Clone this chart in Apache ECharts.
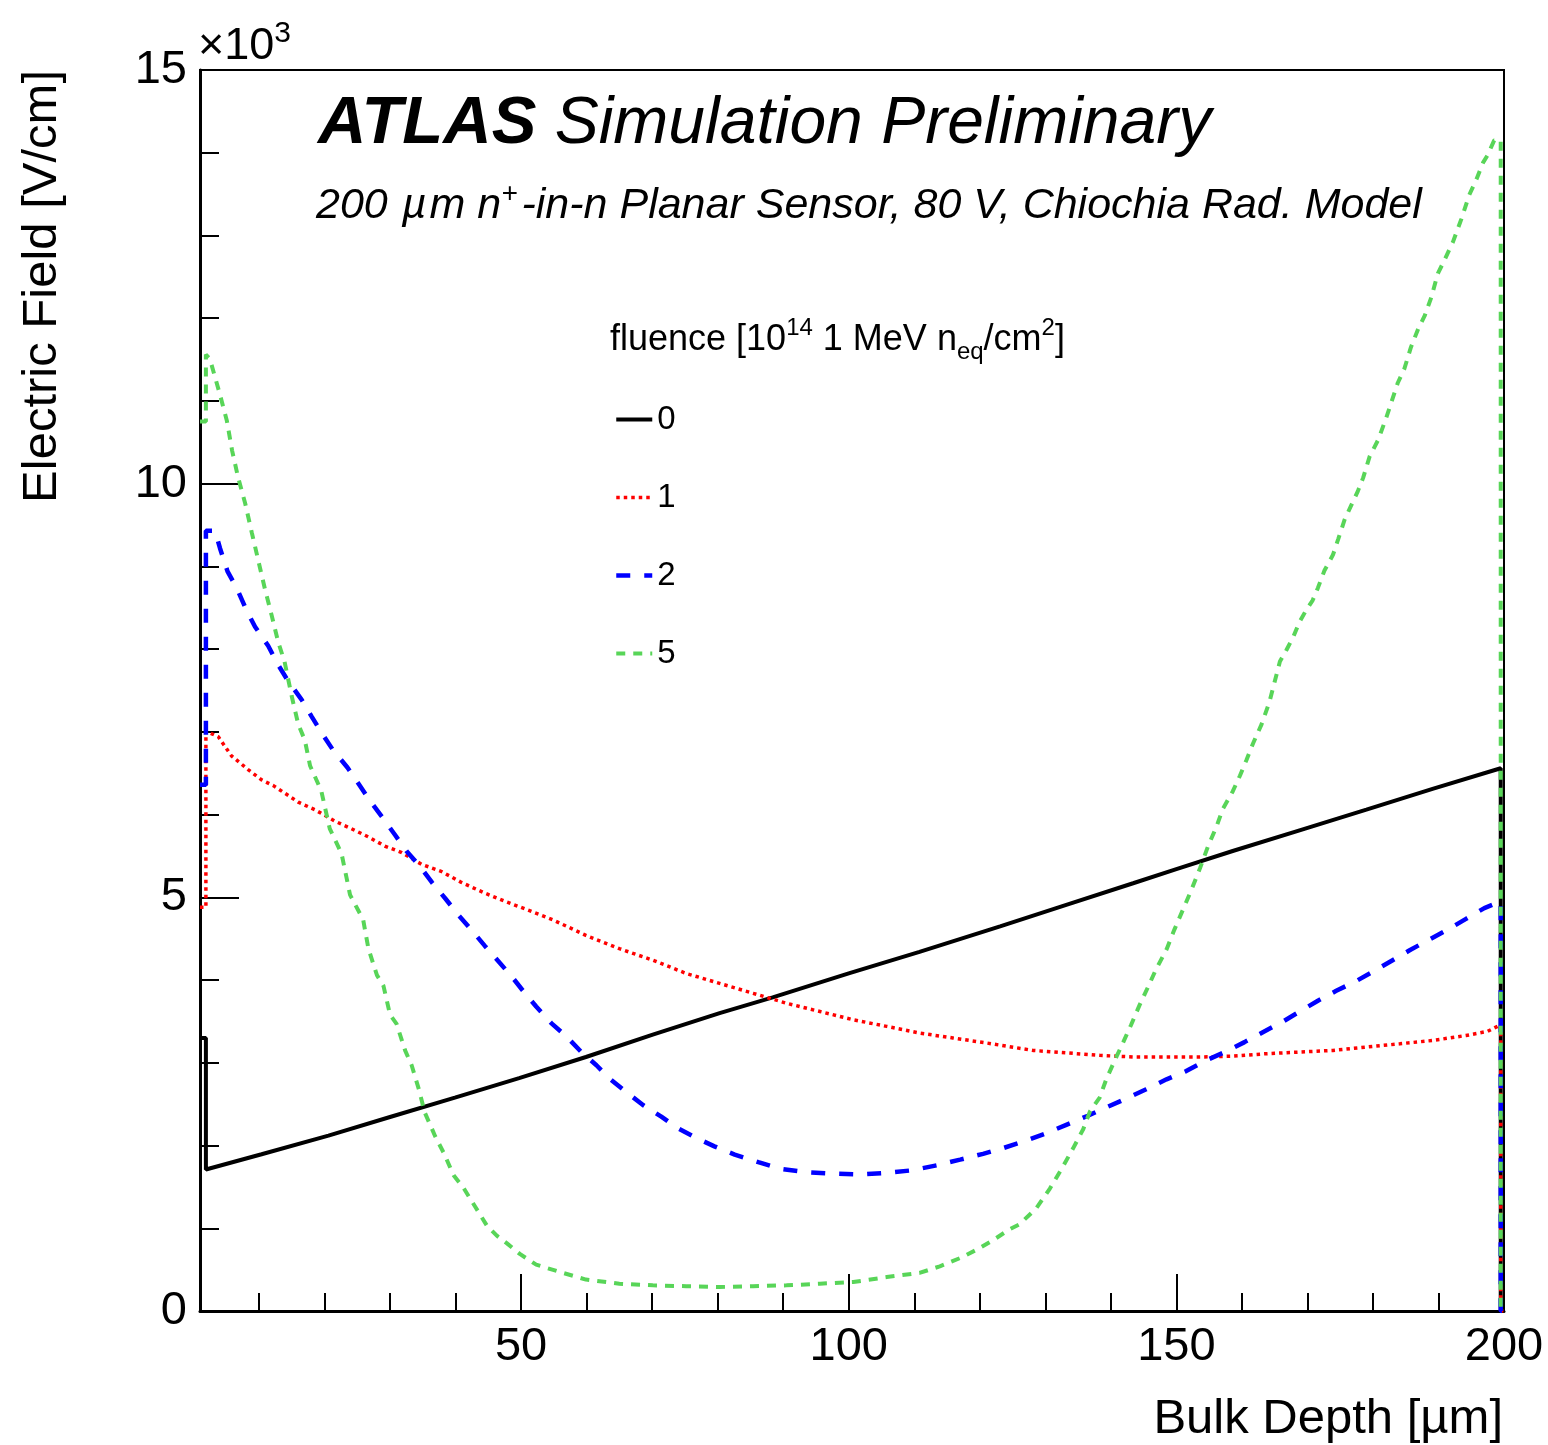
<!DOCTYPE html>
<html><head><meta charset="utf-8">
<script src="https://cdn.jsdelivr.net/npm/echarts@6/dist/echarts.min.js"></script>
<style>html,body{margin:0;padding:0;background:#fff}#c{width:1548px;height:1445px}</style>
</head><body><div id="c"></div>
<script>
const FONT = "'Liberation Sans', Arial, Helvetica, sans-serif";

// ---- data (Bulk depth in µm, electric field in V/cm) ----
const seriesNames = ['0', '1', '2', '5'];

const depth0 = [1, 1.9, 1.9, 10.4, 20.6, 30, 39.9, 49.7, 59.9, 70.1, 80.3, 88.4, 100, 110.8, 123.1, 133.2, 143.4, 150, 158.6, 168.8, 179, 189.1, 199.5, 199.5, 200];
const field0 = [3300, 3300, 1710, 1895, 2120, 2345, 2580, 2815, 3070, 3340, 3600, 3790, 4080, 4340, 4650, 4910, 5170, 5340, 5560, 5810, 6060, 6310, 6560, 0, 0];

const depth1 = [1, 1.9, 1.9, 3.8, 5.8, 8.4, 10.4, 12.2, 14.5, 16, 18.5, 21.6, 24.1, 26.7, 29.2, 31.8, 34.8, 37.9, 40.9, 44.5, 47.6, 50.6, 54.8, 59.9, 65, 70.1, 75.2, 80.3, 85.4, 90.5, 95.6, 100.7, 105.8, 110.8, 115.9, 121, 128.1, 133.2, 138.3, 143.4, 148.5, 153.6, 158.6, 163.7, 168.8, 173.9, 179, 184.1, 189.1, 194.2, 197.5, 199.5, 199.5, 200];
const field1 = [4880, 4880, 7010, 6940, 6710, 6540, 6420, 6350, 6230, 6150, 6060, 5920, 5830, 5730, 5620, 5540, 5400, 5310, 5180, 5050, 4950, 4860, 4730, 4540, 4380, 4240, 4080, 3960, 3840, 3720, 3620, 3520, 3440, 3360, 3300, 3240, 3150, 3120, 3090, 3070, 3070, 3070, 3080, 3110, 3130, 3150, 3190, 3230, 3270, 3330, 3380, 3460, 0, 0];

const depth2 = [1, 1.9, 1.9, 3.3, 4.05, 5.2, 6.6, 8.1, 9.4, 11.4, 13, 14.4, 16.5, 18, 19.8, 21.3, 23.5, 25.3, 27.1, 29, 30.8, 32.5, 34.6, 36.4, 38.5, 40.4, 42.5, 44.5, 46.5, 48.6, 50.4, 52.3, 54.6, 56.9, 59.2, 61.5, 63.5, 66, 68.6, 71.4, 73.7, 76.5, 79.5, 82.6, 86.2, 89.5, 93.3, 97.6, 101.7, 105.8, 109.6, 113.4, 117, 120.5, 123.6, 127.1, 130.2, 133.2, 136.5, 139.3, 142.4, 145.4, 148.5, 151.5, 154.3, 157.4, 160.4, 163.2, 166.3, 168.8, 171.6, 174.4, 177.5, 180.2, 183, 185.6, 188.6, 191.4, 194.2, 197, 199.5, 199.5, 200];
const field2 = [6360, 6360, 9430, 9430, 9220, 8940, 8740, 8470, 8270, 8040, 7800, 7620, 7390, 7190, 6960, 6780, 6570, 6360, 6150, 5950, 5750, 5560, 5370, 5180, 4980, 4790, 4600, 4410, 4230, 4040, 3860, 3680, 3480, 3320, 3130, 2970, 2810, 2650, 2490, 2350, 2220, 2100, 1990, 1890, 1800, 1720, 1680, 1660, 1650, 1670, 1700, 1760, 1830, 1900, 1970, 2060, 2150, 2250, 2360, 2460, 2570, 2680, 2800, 2900, 3020, 3130, 3250, 3370, 3500, 3620, 3750, 3870, 3990, 4110, 4240, 4360, 4490, 4610, 4740, 4870, 4950, 0, 0];

const depth5 = [1, 1.9, 1.9, 2.5, 4, 5.1, 5.9, 6.8, 7.9, 8.9, 9.9, 10.9, 11.9, 12.95, 13.9, 15, 16, 17, 17.8, 19.5, 20.8, 22.6, 23.9, 25.9, 26.7, 28, 29, 30, 31, 32.3, 33.3, 34.4, 35.3, 36.9, 38.2, 39.7, 41.2, 43, 44.8, 46.3, 47.8, 49.8, 52.3, 56.4, 59.9, 65, 70.1, 75.2, 80.3, 85.4, 90.5, 95.6, 100.7, 105.8, 110.8, 113.9, 117, 119.5, 122.1, 124.6, 126.1, 128.6, 130.7, 132.5, 134.2, 135.8, 136.8, 138.3, 139.3, 140.6, 141.9, 143.1, 144.4, 145.7, 146.9, 148.5, 149.7, 151, 152.3, 153.6, 154.8, 156.1, 157.1, 158.6, 159.7, 160.7, 161.7, 163, 164.2, 165.8, 166.8, 167.8, 168.8, 169.8, 170.8, 171.6, 172.6, 173.9, 174.7, 175.7, 176.7, 177.7, 178.5, 179.5, 180.8, 182, 182.8, 183.8, 184.8, 185.8, 186.9, 187.9, 188.9, 189.9, 190.9, 192.2, 193.5, 194.7, 195.8, 196.8, 197.5, 198.5, 199.5, 199.5, 200];
const field5 = [10750, 10750, 11560, 11510, 11090, 10760, 10400, 10080, 9760, 9410, 9070, 8730, 8420, 8080, 7850, 7430, 7090, 6900, 6590, 6290, 5830, 5530, 5030, 4730, 4380, 4060, 3930, 3580, 3470, 3150, 2970, 2680, 2400, 2110, 1910, 1640, 1490, 1260, 1030, 910, 820, 690, 560, 460, 380, 330, 310, 300, 290, 300, 310, 330, 350, 410, 460, 540, 640, 740, 860, 990, 1050, 1240, 1480, 1720, 1960, 2200, 2410, 2580, 2800, 3030, 3250, 3460, 3700, 3920, 4130, 4370, 4610, 4850, 5090, 5350, 5610, 5850, 6070, 6280, 6470, 6660, 6860, 7090, 7360, 7850, 7990, 8140, 8330, 8470, 8590, 8740, 8950, 9140, 9330, 9570, 9740, 9910, 10070, 10330, 10530, 10790, 10980, 11220, 11390, 11650, 11870, 12030, 12250, 12540, 12700, 12920, 13200, 13490, 13680, 13880, 13970, 14150, 14150, 0, 0];

const xMajorTicks = [50, 100, 150, 200];
const xMinorTicks = [10, 20, 30, 40, 60, 70, 80, 90, 110, 120, 130, 140, 160, 170, 180, 190];

// ---- styles ----
const lineStyles = [
  { color: '#000000', width: 4, type: 'solid' },
  { color: '#ff0000', width: 3.5, type: [3.5, 4] },
  { color: '#0000ff', width: 4.5, type: [14, 14] },
  { color: '#58d558', width: 4, type: [9, 8] }
];
const depths = [depth0, depth1, depth2, depth5];
const fields = [field0, field1, field2, field5];

function zip(a, b) { return a.map((v, i) => [v, b[i]]); }

const chart = echarts.init(document.getElementById('c'), null, { renderer: 'canvas' });

const series = seriesNames.map((n, i) => ({
  name: n,
  type: 'line',
  xAxisIndex: 0,
  yAxisIndex: 0,
  data: zip(depths[i], fields[i]),
  symbol: 'none',
  showSymbol: false,
  lineStyle: lineStyles[i],
  itemStyle: { color: lineStyles[i].color },
  clip: true,
  z: 2 + i,
  animation: false
}));

const option = {
  animation: false,
  backgroundColor: '#ffffff',
  grid: { left: 200, right: 44, top: 70, bottom: 134, show: true, borderColor: '#000', borderWidth: 2, backgroundColor: 'transparent' },
  xAxis: [
    {
      type: 'value', min: 1, max: 200, position: 'bottom',
      axisLine: { show: true, lineStyle: { color: '#000', width: 3 } },
      axisTick: { show: true, inside: true, length: 37, customValues: xMajorTicks, lineStyle: { color: '#000', width: 2 } },
      axisLabel: { show: true, customValues: xMajorTicks, color: '#000', fontSize: 47, fontFamily: FONT, margin: 13 },
      splitLine: { show: false }
    },
    {
      type: 'value', min: 1, max: 200, position: 'bottom',
      axisLine: { show: false },
      axisTick: { show: true, inside: true, length: 18, customValues: xMinorTicks, lineStyle: { color: '#000', width: 2 } },
      axisLabel: { show: false },
      splitLine: { show: false }
    }
  ],
  yAxis: {
    type: 'value', min: 0, max: 15000, interval: 5000,
    axisLine: { show: true, lineStyle: { color: '#000', width: 3 } },
    axisTick: { show: true, inside: true, length: 39, lineStyle: { color: '#000', width: 2 } },
    minorTick: { show: true, splitNumber: 5, length: 19, lineStyle: { color: '#000', width: 2 } },
    axisLabel: { color: '#000', fontSize: 47, fontFamily: FONT, margin: 13, formatter: v => String(v / 1000) },
    splitLine: { show: false },
    minorSplitLine: { show: false }
  },
  legend: {
    data: seriesNames.map((n, i) => ({
      name: n,
      lineStyle: { color: lineStyles[i].color, width: lineStyles[i].width, type: lineStyles[i].type }
    })),
    orient: 'vertical',
    left: 614, top: 403,
    padding: 0,
    itemWidth: 36, itemHeight: 20, itemGap: 45,
    itemStyle: { opacity: 0 },
    textStyle: { fontSize: 33, fontFamily: FONT, color: '#000' },
    selectedMode: false
  },
  graphic: [
    {
      type: 'text', x: 318, y: 125,
      style: {
        text: '{a|ATLAS}{b| Simulation Preliminary}',
        verticalAlign: 'middle', align: 'left',
        rich: {
          a: { fontFamily: FONT, fontSize: 67, fontWeight: 'bold', fontStyle: 'italic', fill: '#000' },
          b: { fontFamily: FONT, fontSize: 66, fontStyle: 'italic', fill: '#000' }
        }
      }
    },
    {
      type: 'text', x: 316, y: 206,
      style: {
        text: '{t|200 }{m|µ}{t|m n}{s|+}{t|-in-n Planar Sensor, 80 V, Chiochia Rad. Model}',
        verticalAlign: 'middle', align: 'left',
        rich: {
          t: { fontFamily: FONT, fontSize: 43, fontStyle: 'italic', fill: '#000', lineHeight: 52 },
          m: { fontFamily: FONT, fontSize: 43, fontStyle: 'italic', fill: '#000', lineHeight: 52, padding: [0, 3, 0, 2] },
          s: { fontFamily: FONT, fontSize: 28, fontStyle: 'italic', fill: '#000', lineHeight: 28, verticalAlign: 'top', padding: [0, 4, 0, 0] }
        }
      }
    },
    {
      type: 'text', x: 610, y: 340,
      style: {
        text: '{t|fluence [10}{s|14}{t| 1 MeV n}{b|eq}{t|/cm}{s|2}{t|]}',
        verticalAlign: 'middle', align: 'left',
        rich: {
          t: { fontFamily: FONT, fontSize: 36, fill: '#000', lineHeight: 48 },
          s: { fontFamily: FONT, fontSize: 24, fill: '#000', lineHeight: 24, verticalAlign: 'top' },
          b: { fontFamily: FONT, fontSize: 24, fill: '#000', lineHeight: 24, verticalAlign: 'bottom' }
        }
      }
    },
    {
      type: 'text', x: 198, y: 47,
      style: {
        text: '{t|×10}{s|3}',
        verticalAlign: 'middle', align: 'left',
        rich: {
          t: { fontFamily: FONT, fontSize: 45, fill: '#000', lineHeight: 56 },
          s: { fontFamily: FONT, fontSize: 30, fill: '#000', lineHeight: 30, verticalAlign: 'top' }
        }
      }
    },
    {
      type: 'text', x: 42, y: 70, rotation: Math.PI / 2,
      style: { text: 'Electric Field [V/cm]', fontFamily: FONT, fontSize: 49, fill: '#000', align: 'right', verticalAlign: 'middle' }
    },
    {
      type: 'text', x: 1503, y: 1419,
      style: { text: 'Bulk Depth [µm]', fontFamily: FONT, fontSize: 49, fill: '#000', align: 'right', verticalAlign: 'middle' }
    }
  ],
  series: series
};
chart.setOption(option);
</script>
</body></html>
